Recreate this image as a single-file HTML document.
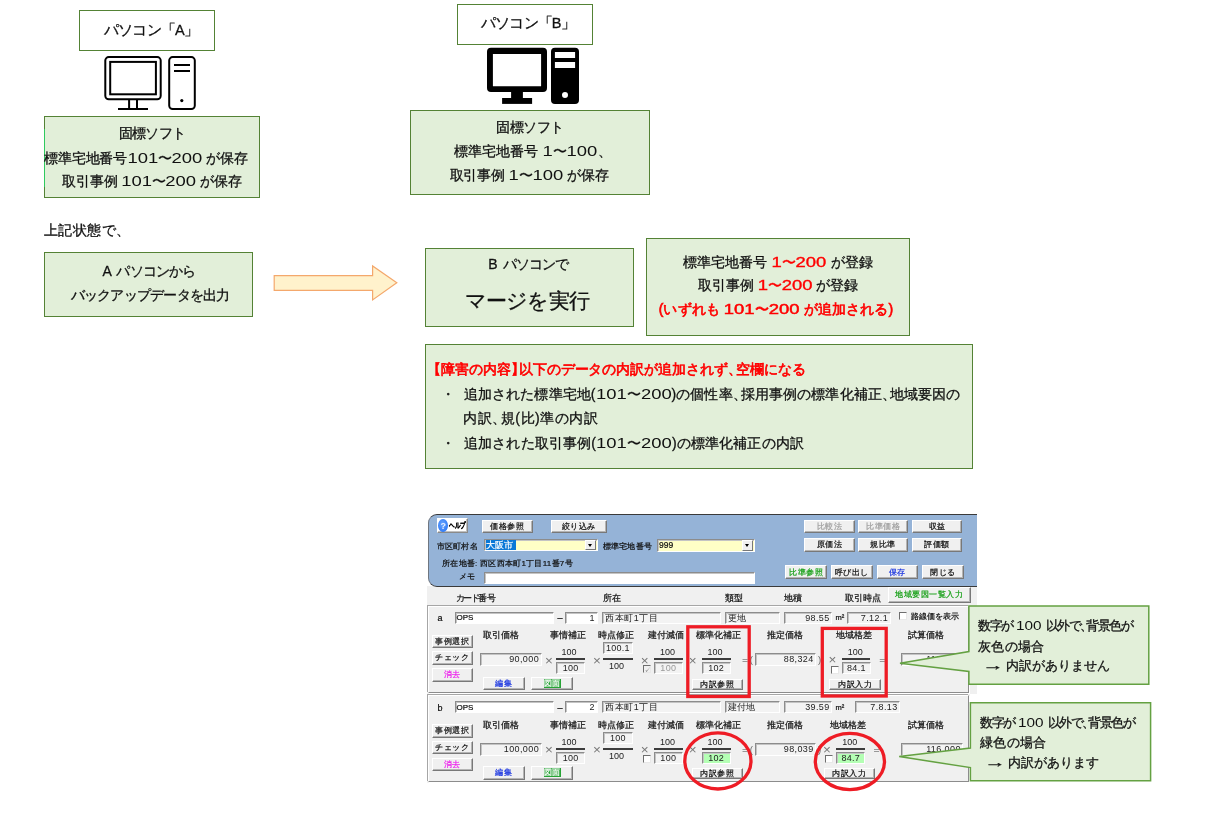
<!DOCTYPE html>
<html lang="ja">
<head>
<meta charset="utf-8">
<title>マージ時の障害内容</title>
<style>
html,body{margin:0;padding:0;background:#fff;}
body{width:1219px;height:824px;position:relative;overflow:hidden;font-family:"Liberation Sans",sans-serif;color:#111;}
.abs{position:absolute;}
/* office-style shapes */
.box{position:absolute;box-sizing:border-box;border:1px solid #548235;background:#fff;}
.gbox{position:absolute;box-sizing:border-box;border:1px solid #548235;background:#e2efd9;}
/* centred single-line text: left/top give the centre point */
.c{will-change:transform;position:absolute;white-space:nowrap;line-height:1;transform:translate(-50%,-50%);font-size:14px;color:#111;-webkit-text-stroke:0.3px currentColor;}
/* left-aligned single-line text: left gives start x, top gives centre y */
.l{will-change:transform;position:absolute;white-space:nowrap;line-height:1;transform:translateY(-50%);font-size:14px;color:#111;-webkit-text-stroke:0.3px currentColor;}
.red{color:#ff0000;}
span.red{-webkit-text-stroke:0.4px currentColor;}
span.red.n{-webkit-text-stroke:0.35px currentColor;}
.b{-webkit-text-stroke:0.65px currentColor;}
.b .n{-webkit-text-stroke:0.5px currentColor;}
.n{display:inline-block;font-size:1.03em;letter-spacing:0;transform:scaleX(1.28);transform-origin:0 50%;-webkit-text-stroke:0 currentColor;}
.n1{margin-right:0.16em;}
.n3{margin-right:0.48em;}
.n.s{transform:scaleX(1.12);margin-right:0.2em;}
.ar{display:inline-block;transform:scaleX(1.6);transform-origin:0 50%;margin-right:0.55em;}
.h{margin-right:-0.42em;}
.hl{margin-left:-0.42em;}
svg{position:absolute;left:0;top:0;overflow:visible;}
/* ---- legacy windows app mock ---- */
#app{position:absolute;left:0;top:0;width:1219px;height:824px;font-size:9px;color:#111;transform:translateZ(0);-webkit-text-stroke:0.22px currentColor;}
#app div{position:absolute;box-sizing:border-box;white-space:nowrap;}
#app .btn{background:#f0f0f0;border:1px solid;border-color:#fff #787878 #787878 #fff;box-shadow:inset -1px -1px 0 #b4b4b4;text-align:center;overflow:hidden;font-size:8px;letter-spacing:0.5px;}
#app .fld{background:#f3f3f3;border:1px solid;border-color:#8c8c8c #fff #fff #8c8c8c;box-shadow:inset 1px 1px 0 #c4c4c4;overflow:hidden;}
#app .fld,#app .tc{-webkit-text-stroke:0 currentColor;color:#222;}
#app .w{background:#fff;}
#app .y{background:#ffffc6;}
#app .g{background:#b4ffb4;}
#app .r{text-align:right;padding-right:1.5px;letter-spacing:0.4px;}
#app .m{text-align:center;letter-spacing:0.3px;}
#app .tx{line-height:1;transform:translateY(-50%);}
#app .tc{line-height:1;transform:translate(-50%,-50%);}
#app .bar{height:2px;background:#3c3c3c;}
#app .cb{width:8px;height:8px;background:#fff;border:1px solid;border-color:#6e6e6e #e8e8e8 #e8e8e8 #6e6e6e;}
#app .row{left:0;width:1219px;height:0;}
#app .pan{background:#f0f0f0;border:1px solid;border-color:#fff #8c8c8c #8c8c8c #fff;box-shadow:-1px -1px 0 #a6a6a6,1px 1px 0 #fff;}
</style>
</head>
<body>

<!-- ============ PC "A" ============ -->
<div class="box" style="left:79px;top:10px;width:136px;height:41px;"></div>
<div id="t0" class="c" style="left:150.8px;top:29.6px;font-size:14.5px;letter-spacing:-0.71px;">パソコン「A」</div>

<div class="gbox" style="left:44px;top:116px;width:216px;height:82px;"></div>
<div class="abs" style="left:44px;top:128.5px;width:1px;height:58px;background:#2fca5f;"></div>
<div id="t1" class="c" style="left:152.1px;top:132.6px;letter-spacing:-0.68px;">固標ソフト</div>
<div id="t2" class="c" style="left:146.3px;top:158.1px;letter-spacing:-0.24px;">標準宅地番号<span class="n n3">101</span>〜<span class="n n3">200</span> が保存</div>
<div id="t3" class="c" style="left:151.7px;top:181.4px;letter-spacing:-0.23px;">取引事例 <span class="n n3">101</span>〜<span class="n n3">200</span> が保存</div>

<div id="t4" class="l" style="left:44.2px;top:229.7px;letter-spacing:0.39px;">上記状態で、</div>

<div class="gbox" style="left:44px;top:252px;width:209px;height:65px;"></div>
<div id="t5" class="c" style="word-spacing:3px;left:148.9px;top:271.1px;letter-spacing:-0.80px;">A パソコンから</div>
<div id="t6" class="c" style="left:149.6px;top:294.6px;letter-spacing:-0.75px;">バックアップデータを出力</div>

<!-- ============ PC "B" ============ -->
<div class="box" style="left:457px;top:4px;width:136px;height:41px;"></div>
<div id="t7" class="c" style="left:528.2px;top:22.6px;font-size:14.5px;letter-spacing:-0.89px;">パソコン「B」</div>

<div class="gbox" style="left:410px;top:110px;width:240px;height:85px;"></div>
<div id="t8" class="c" style="left:530.2px;top:126.9px;letter-spacing:-0.60px;">固標ソフト</div>
<div id="t9" class="c" style="left:533.2px;top:151.4px;letter-spacing:-0.01px;">標準宅地番号 <span class="n n1">1</span>〜<span class="n n3">100</span>、</div>
<div id="t10" class="c" style="left:529.4px;top:175.1px;letter-spacing:-0.22px;">取引事例 <span class="n n1">1</span>〜<span class="n n3">100</span> が保存</div>

<!-- merge box -->
<div class="gbox" style="left:425px;top:248px;width:209px;height:79px;"></div>
<div id="t11" class="c" style="word-spacing:3px;left:527.9px;top:264.1px;letter-spacing:-0.99px;">B パソコンで</div>
<div id="t12" class="c" style="left:527.4px;top:300.1px;font-size:21px;letter-spacing:-0.95px;">マージを実行</div>

<!-- result box -->
<div class="gbox" style="left:646px;top:238px;width:264px;height:98px;"></div>
<div id="t13" class="c" style="left:777.5px;top:261.6px;letter-spacing:0.01px;">標準宅地番号 <span class="red n n1">1</span><span class="red">〜</span><span class="red n n3">200</span> が登録</div>
<div id="t14" class="c" style="left:778.2px;top:285.1px;letter-spacing:-0.05px;">取引事例 <span class="red n n1">1</span><span class="red">〜</span><span class="red n n3">200</span> が登録</div>
<div id="t15" class="c red b" style="left:776.1px;top:309.1px;letter-spacing:0.11px;">(いずれも <span class="n n3">101</span>〜<span class="n n3">200</span> が追加される)</div>

<!-- trouble description box -->
<div class="gbox" style="left:425px;top:344px;width:548px;height:125px;"></div>
<div id="t16" class="l red b" style="left:432.6px;top:368.7px;letter-spacing:-0.07px;"><span class="hl">【</span>障害の内容<span class="h">】</span>以下のデータの内訳が追加されず<span class="h">、</span>空欄になる</div>
<div id="t17" class="l" style="left:441.3px;top:393.9px;">・</div>
<div id="t18" class="l" style="left:463.5px;top:393.6px;letter-spacing:0.09px;">追加された標準宅地(<span class="n n3">101</span>〜<span class="n n3">200</span>)の個性率<span class="h">、</span>採用事例の標準化補正<span class="h">、</span>地域要因の</div>
<div id="t19" class="l" style="left:462.5px;top:417.6px;letter-spacing:0.55px;">内訳<span class="h">、</span>規(比)準の内訳</div>
<div id="t20" class="l" style="left:441.3px;top:443.2px;">・</div>
<div id="t21" class="l" style="left:463.5px;top:442.8px;letter-spacing:0.13px;">追加された取引事例(<span class="n n3">101</span>〜<span class="n n3">200</span>)の標準化補正の内訳</div>

<!-- ============ vector shapes: PC icons, arrow ============ -->
<svg width="1219" height="824" viewBox="0 0 1219 824">
  <!-- PC A (outline) -->
  <g fill="none" stroke="#000" stroke-width="2">
    <rect x="105.3" y="57.1" width="55.4" height="42.2" rx="3.5"/>
    <rect x="110.2" y="61.9" width="45.7" height="32.4"/>
    <path d="M129.1 100V109M137 100V109M118 109H148"/>
    <rect x="169.2" y="57.1" width="25.6" height="51.9" rx="3.5"/>
    <path d="M174 65H190M174 71H190"/>
  </g>
  <circle cx="181.8" cy="100.6" r="1.6" fill="#000"/>
  <!-- PC B (solid) -->
  <g fill="#000">
    <path fill-rule="evenodd" d="M491 47.8H543a4 4 0 0 1 4 4V87.9a4 4 0 0 1 -4 4H491a4 4 0 0 1 -4 -4V51.8a4 4 0 0 1 4 -4ZM492.9 53.9V86.2H541.1V53.9Z"/>
    <rect x="511.1" y="91" width="11.8" height="8"/>
    <rect x="502.1" y="98" width="30" height="5.9"/>
    <path fill-rule="evenodd" d="M555 47.8H575a4 4 0 0 1 4 4V99.9a4 4 0 0 1 -4 4H555a4 4 0 0 1 -4 -4V51.8a4 4 0 0 1 4 -4ZM554.9 51.9V58.1H575.1V51.9ZM554.9 61.9V68H575.1V61.9ZM568 95a3 3 0 1 0 -6 0a3 3 0 1 0 6 0Z"/>
  </g>
  <!-- block arrow -->
  <path d="M274.2 275.6H372.6V266L396.8 282.8L372.6 299.9V290.3H274.2Z" fill="#fff2cc" stroke="#f4a86c" stroke-width="1.2" stroke-linejoin="miter"/>
</svg>

<div id="app">
  <!-- window background -->
  <div style="left:427px;top:586px;width:550px;height:20px;background:#f0f0f0;"></div>
  <div style="left:427px;top:604px;width:550px;height:90px;background:#f0f0f0;"></div>
  <div style="left:427px;top:694px;width:543px;height:89px;background:#f0f0f0;"></div>
  <!-- blue header panel -->
  <div style="left:427.6px;top:513.5px;width:549.2px;height:73.3px;background:#95b3d7;border:1px solid #3a3a3a;border-left-color:#6f7680;border-right:none;border-radius:9px 0 0 9px;"></div>

  <div class="btn" style="left:436.8px;top:517.7px;width:30.8px;height:15.7px;background:#fff;border-color:#fff #8a8a8a #8a8a8a #fff;box-shadow:inset -1px -1px 0 #c0c0c0;"></div>
  <div style="left:438.2px;top:518.9px;width:9.8px;height:13.4px;border-radius:50%;background:radial-gradient(ellipse at 45% 40%,#6aa6ff,#2f7af5 75%);"></div>
  <div class="tc" style="left:443.2px;top:525.6px;color:#e8f0ff;font-weight:bold;font-size:9px;">?</div>
  <div class="tx" style="left:449px;top:525.8px;font-weight:bold;font-size:7.6px;color:#000;transform:translateY(-50%) scaleX(0.70);transform-origin:left center;">ヘルプ</div>

  <div class="btn" style="left:481.5px;top:519.8px;width:51px;height:13.5px;line-height:11px;">価格参照</div>
  <div class="btn" style="left:551px;top:519.8px;width:55.5px;height:13.5px;line-height:11px;">絞り込み</div>

  <div class="tx" style="left:436.5px;top:546.8px;font-size:8px;letter-spacing:0.25px;">市区町村名</div>
  <div class="fld y" style="left:484px;top:538.5px;width:113.5px;height:12.8px;"></div>
  <div style="left:485.5px;top:540px;width:30px;height:9.8px;background:#0a78d7;"></div>
  <div class="tx" style="left:486px;top:545px;color:#fff;font-size:9px;">大阪市</div>
  <div class="btn" style="left:584.5px;top:540px;width:11.5px;height:10px;box-shadow:none;"></div>
  <div style="left:588px;top:543.5px;width:0;height:0;border-left:2.5px solid transparent;border-right:2.5px solid transparent;border-top:3px solid #000;"></div>

  <div class="tx" style="left:602.5px;top:546.8px;font-size:8px;letter-spacing:0.25px;">標準宅地番号</div>
  <div class="fld y" style="left:657px;top:538.5px;width:97.5px;height:13.5px;"></div>
  <div class="tx" style="left:659px;top:544.5px;font-size:8.5px;">999</div>
  <div class="btn" style="left:742px;top:540px;width:11px;height:10.5px;box-shadow:none;"></div>
  <div style="left:745.2px;top:544px;width:0;height:0;border-left:2.5px solid transparent;border-right:2.5px solid transparent;border-top:3px solid #000;"></div>

  <div class="tx" style="left:442px;top:564.2px;font-size:8px;letter-spacing:0.27px;">所在地番: 西区西本町1丁目11番7号</div>
  <div class="tx" style="left:458.5px;top:577px;font-size:8px;letter-spacing:0.9px;">メモ</div>
  <div class="fld w" style="left:484px;top:572px;width:271px;height:12px;"></div>

  <!-- right side buttons -->
  <div class="btn" style="left:804px;top:519.7px;width:50.5px;height:13.7px;line-height:11px;color:#a0a0a0;">比較法</div>
  <div class="btn" style="left:858px;top:519.7px;width:50px;height:13.7px;line-height:11px;color:#a0a0a0;">比準価格</div>
  <div class="btn" style="left:912px;top:519.7px;width:50px;height:13.7px;line-height:11px;">収益</div>
  <div class="btn" style="left:804px;top:538.2px;width:50.5px;height:13.5px;line-height:11px;">原価法</div>
  <div class="btn" style="left:858px;top:538.2px;width:50px;height:13.5px;line-height:11px;">規比準</div>
  <div class="btn" style="left:912px;top:538.2px;width:50px;height:13.5px;line-height:11px;">評価額</div>
  <div class="btn" style="left:785px;top:564.5px;width:42px;height:14.8px;line-height:13px;color:#18a018;">比準参照</div>
  <div class="btn" style="left:830.5px;top:564.5px;width:42px;height:14.8px;line-height:13px;">呼び出し</div>
  <div class="btn" style="left:876.5px;top:564.5px;width:41.5px;height:14.8px;line-height:13px;color:#1a35e0;">保存</div>
  <div class="btn" style="left:922px;top:564.5px;width:41.5px;height:14.8px;line-height:13px;">閉じる</div>

  <!-- column captions -->
  <div class="tx" style="left:456px;top:597.8px;"><span style="letter-spacing:-1.6px;">カード</span>番号</div>
  <div class="tx" style="left:603px;top:597.8px;">所在</div>
  <div class="tx" style="left:725px;top:597.8px;">類型</div>
  <div class="tx" style="left:784px;top:597.8px;">地積</div>
  <div class="tx" style="left:844.5px;top:597.8px;">取引時点</div>
  <div class="btn" style="left:887.5px;top:587.4px;width:83px;height:15.2px;line-height:14.5px;color:#18a018;font-size:8.2px;">地域要因一覧入力</div>

<!--ROWS-->
<div class="row" style="top:0px;">
  <div class="pan" style="left:428px;top:605.5px;width:541px;height:87px;"></div>
  <div class="tx" style="left:437.5px;top:618px;font-size:9px;">a</div>
  <div class="fld w" style="left:454.5px;top:611.7px;width:99.5px;height:12px;"></div><div class="tx" style="left:456.5px;top:618px;font-size:8px;">OPS</div>
  <div class="tx" style="left:557.5px;top:618px;">–</div>
  <div class="fld w r" style="left:564.5px;top:611.7px;width:33px;height:12px;line-height:10.5px;">1</div>
  <div class="fld" style="left:602.3px;top:611.7px;width:118.5px;height:12px;line-height:10.5px;padding-left:2px;font-size:9px;letter-spacing:0.45px;">西本町1丁目</div>
  <div class="fld" style="left:724.6px;top:611.7px;width:55.5px;height:12px;line-height:10.5px;padding-left:2px;font-size:9px;letter-spacing:0.45px;">更地</div>
  <div class="fld r" style="left:783.6px;top:611.7px;width:48.6px;height:12px;line-height:10.5px;">98.55</div>
  <div class="tx" style="left:835.5px;top:618.3px;font-size:7.5px;">m²</div>
  <div class="fld r" style="left:846.9px;top:611.7px;width:43.8px;height:12px;line-height:10.5px;">7.12.1</div>
  <div class="cb" style="left:898.8px;top:612.3px;"></div>
  <div class="tx" style="left:911px;top:616.5px;font-size:8.2px;">路線価を表示</div>
  <div class="btn" style="left:431.5px;top:634.6px;width:41.5px;height:13.5px;line-height:11px;">事例選択</div>
  <div class="btn" style="left:431.5px;top:651.2px;width:41.5px;height:13.5px;line-height:11px;">チェック</div>
  <div class="btn" style="left:431.5px;top:668.2px;width:41.5px;height:13.5px;line-height:11px;color:#ee22ee;">消去</div>
  <div class="tx" style="left:483px;top:635.4px;">取引価格</div>
  <div class="tx" style="left:550px;top:635.4px;">事情補正</div>
  <div class="tx" style="left:597.7px;top:635.4px;">時点修正</div>
  <div class="tx" style="left:647.6px;top:635.4px;">建付減価</div>
  <div class="tx" style="left:695.7px;top:635.4px;">標準化補正</div>
  <div class="tx" style="left:767px;top:635.4px;">推定価格</div>
  <div class="tx" style="left:835.9px;top:635.4px;">地域格差</div>
  <div class="tx" style="left:908px;top:635.4px;">試算価格</div>
  <div class="fld r" style="left:480.4px;top:653.1px;width:61.2px;height:13px;line-height:11px;">90,000</div>
  <div class="tc" style="left:549px;top:660.5px;font-size:13.5px;color:#777;">×</div>
  <div class="tc" style="left:597px;top:660.5px;font-size:13.5px;color:#777;">×</div>
  <div class="tc" style="left:644.6px;top:660.5px;font-size:13.5px;color:#777;">×</div>
  <div class="tc" style="left:692.7px;top:660.5px;font-size:13.5px;color:#777;">×</div>
  <div class="tc" style="left:569px;top:652.2px;">100</div><div class="bar" style="left:556.4px;top:658px;width:28.2px;"></div>
  <div class="fld m" style="left:556.4px;top:662.1px;width:28.5px;height:12px;line-height:10.5px;">100</div>
  <div class="fld m" style="left:603px;top:642.3px;width:29.8px;height:12px;line-height:10.5px;">100.1</div><div class="bar" style="left:603px;top:658px;width:29.8px;"></div>
  <div class="tc" style="left:616.5px;top:666.3px;">100</div>
  <div class="tc" style="left:667.5px;top:652.2px;">100</div><div class="bar" style="left:654px;top:658px;width:28.6px;"></div>
  <div class="fld m" style="left:654px;top:662.1px;width:28.6px;height:12px;line-height:10.5px;color:#9a9a9a;">100</div>
  <div class="cb" style="left:643px;top:665px;background:#f0f0f0;"></div>
  <div class="tc" style="left:647.2px;top:669px;font-size:7px;color:#8a8a8a;">✓</div>
  <div class="tc" style="left:715px;top:652.2px;">100</div><div class="bar" style="left:701.5px;top:658px;width:29px;"></div>
  <div class="fld m" style="left:701.5px;top:662.1px;width:29.4px;height:12px;line-height:10.5px;">102</div>
  <div class="btn" style="left:691.5px;top:678.7px;width:51.5px;height:11.2px;line-height:9.5px;">内訳参照</div>
  <div class="tc" style="left:745px;top:660.3px;font-size:10.5px;color:#444;transform:translate(-50%,-50%) scaleY(0.75);">=</div>
  <div class="tc" style="left:751.3px;top:660.3px;font-size:9.5px;color:#666;">(</div>
  <div class="fld r" style="left:755.3px;top:653.1px;width:60.9px;height:13px;line-height:11px;">88,324</div>
  <div class="tc" style="left:819.6px;top:660.3px;font-size:9.5px;color:#666;">)</div>
  <div class="tc" style="left:832.5px;top:660.3px;font-size:13.5px;color:#777;">×</div>
  <div class="tc" style="left:855.3px;top:652.2px;">100</div><div class="bar" style="left:842px;top:658px;width:28.2px;"></div>
  <div class="fld m" style="left:842px;top:662.1px;width:28.8px;height:12px;line-height:10.5px;">84.1</div>
  <div class="cb" style="left:830.6px;top:665.8px;"></div>
  <div class="btn" style="left:829.4px;top:678.7px;width:51.4px;height:11.2px;line-height:9.5px;">内訳入力</div>
  <div class="tc" style="left:882.3px;top:660.3px;font-size:10.5px;color:#444;transform:translate(-50%,-50%) scaleY(0.75);">=</div>
  <div class="fld r" style="left:900.5px;top:653.1px;width:62.8px;height:13px;line-height:11px;">118,000</div>
  <div class="btn" style="left:483px;top:676.7px;width:41.5px;height:13.5px;line-height:11px;color:#1a35e0;">編集</div>
  <div class="btn" style="left:531.4px;top:676.7px;width:41.6px;height:13.5px;line-height:11px;"><span style="background:#27a336;color:#fff;">図面</span></div>
</div>
<div class="row" style="top:89.5px;">
  <div class="pan" style="left:428px;top:605.5px;width:541px;height:87px;"></div>
  <div class="tx" style="left:437.5px;top:618px;font-size:9px;">b</div>
  <div class="fld w" style="left:454.5px;top:611.7px;width:99.5px;height:12px;"></div><div class="tx" style="left:456.5px;top:618px;font-size:8px;">OPS</div>
  <div class="tx" style="left:557.5px;top:618px;">–</div>
  <div class="fld w r" style="left:564.5px;top:611.7px;width:33px;height:12px;line-height:10.5px;">2</div>
  <div class="fld" style="left:602.3px;top:611.7px;width:118.5px;height:12px;line-height:10.5px;padding-left:2px;font-size:9px;letter-spacing:0.45px;">西本町1丁目</div>
  <div class="fld" style="left:724.6px;top:611.7px;width:55.5px;height:12px;line-height:10.5px;padding-left:2px;font-size:9px;letter-spacing:0.45px;">建付地</div>
  <div class="fld r" style="left:783.6px;top:611.7px;width:48.6px;height:12px;line-height:10.5px;">39.59</div>
  <div class="tx" style="left:835.5px;top:618.3px;font-size:7.5px;">m²</div>
  <div class="fld r" style="left:854.6px;top:611.7px;width:45.6px;height:12px;line-height:10.5px;">7.8.13</div>
  <div class="btn" style="left:431.5px;top:634.6px;width:41.5px;height:13.5px;line-height:11px;">事例選択</div>
  <div class="btn" style="left:431.5px;top:651.2px;width:41.5px;height:13.5px;line-height:11px;">チェック</div>
  <div class="btn" style="left:431.5px;top:668.2px;width:41.5px;height:13.5px;line-height:11px;color:#ee22ee;">消去</div>
  <div class="tx" style="left:483px;top:635.4px;">取引価格</div>
  <div class="tx" style="left:550px;top:635.4px;">事情補正</div>
  <div class="tx" style="left:597.7px;top:635.4px;">時点修正</div>
  <div class="tx" style="left:647.6px;top:635.4px;">建付減価</div>
  <div class="tx" style="left:695.7px;top:635.4px;">標準化補正</div>
  <div class="tx" style="left:767px;top:635.4px;">推定価格</div>
  <div class="tx" style="left:830.3px;top:635.4px;">地域格差</div>
  <div class="tx" style="left:908px;top:635.4px;">試算価格</div>
  <div class="fld r" style="left:480.4px;top:653.1px;width:61.2px;height:13px;line-height:11px;">100,000</div>
  <div class="tc" style="left:549px;top:660.5px;font-size:13.5px;color:#777;">×</div>
  <div class="tc" style="left:597px;top:660.5px;font-size:13.5px;color:#777;">×</div>
  <div class="tc" style="left:644.6px;top:660.5px;font-size:13.5px;color:#777;">×</div>
  <div class="tc" style="left:692.7px;top:660.5px;font-size:13.5px;color:#777;">×</div>
  <div class="tc" style="left:569px;top:652.2px;">100</div><div class="bar" style="left:556.4px;top:658px;width:28.2px;"></div>
  <div class="fld m" style="left:556.4px;top:662.1px;width:28.5px;height:12px;line-height:10.5px;">100</div>
  <div class="fld m" style="left:603px;top:642.3px;width:29.8px;height:12px;line-height:10.5px;">100</div><div class="bar" style="left:603px;top:658px;width:29.8px;"></div>
  <div class="tc" style="left:616.5px;top:666.3px;">100</div>
  <div class="tc" style="left:667.5px;top:652.2px;">100</div><div class="bar" style="left:654px;top:658px;width:28.6px;"></div>
  <div class="fld m" style="left:654px;top:662.1px;width:28.6px;height:12px;line-height:10.5px;">100</div>
  <div class="cb" style="left:643px;top:665px;"></div>
  <div class="tc" style="left:715px;top:652.2px;">100</div><div class="bar" style="left:701.5px;top:658px;width:29px;"></div>
  <div class="fld m g" style="left:701.5px;top:662.1px;width:29.4px;height:12px;line-height:10.5px;">102</div>
  <div class="btn" style="left:691.5px;top:678.7px;width:51.5px;height:11.2px;line-height:9.5px;">内訳参照</div>
  <div class="tc" style="left:745px;top:660.3px;font-size:10.5px;color:#444;transform:translate(-50%,-50%) scaleY(0.75);">=</div>
  <div class="tc" style="left:751.3px;top:660.3px;font-size:9.5px;color:#666;">(</div>
  <div class="fld r" style="left:755.3px;top:653.1px;width:60.9px;height:13px;line-height:11px;">98,039</div>
  <div class="tc" style="left:819.6px;top:660.3px;font-size:9.5px;color:#666;">)</div>
  <div class="tc" style="left:826.9px;top:660.3px;font-size:13.5px;color:#777;">×</div>
  <div class="tc" style="left:849.6999999999999px;top:652.2px;">100</div><div class="bar" style="left:836.4px;top:658px;width:28.2px;"></div>
  <div class="fld m g" style="left:836.4px;top:662.1px;width:28.8px;height:12px;line-height:10.5px;">84.7</div>
  <div class="cb" style="left:825.0px;top:665.8px;"></div>
  <div class="btn" style="left:823.8px;top:678.7px;width:51.4px;height:11.2px;line-height:9.5px;">内訳入力</div>
  <div class="tc" style="left:876.6999999999999px;top:660.3px;font-size:10.5px;color:#444;transform:translate(-50%,-50%) scaleY(0.75);">=</div>
  <div class="fld r" style="left:900.5px;top:653.1px;width:62.8px;height:13px;line-height:11px;">116,000</div>
  <div class="btn" style="left:483px;top:676.7px;width:41.5px;height:13.5px;line-height:11px;color:#1a35e0;">編集</div>
  <div class="btn" style="left:531.4px;top:676.7px;width:41.6px;height:13.5px;line-height:11px;"><span style="background:#27a336;color:#fff;">図面</span></div>
</div>
<!--/ROWS-->
</div>

<!-- ============ red markers + callouts ============ -->
<svg width="1219" height="824" viewBox="0 0 1219 824">
  <g fill="none" stroke="#ee1c25" stroke-width="3.3">
    <rect x="687.8" y="626.8" width="61.4" height="69.7"/>
    <rect x="822.3" y="628.4" width="63.9" height="67.6"/>
    <ellipse cx="717.9" cy="760.9" rx="33.1" ry="28.1"/>
    <ellipse cx="849.9" cy="761.5" rx="34.6" ry="28.1"/>
  </g>
  <g fill="#e2efd9" stroke="#64a142" stroke-width="1.5" stroke-linejoin="miter">
    <path d="M968.9 606H1148.8V684.2H968.9V671.4L900 663.3L968.9 651.6Z"/>
    <path d="M970.4 702.8H1150.6V780.7H970.4V767.6L899.2 756.6L970.4 748.1Z"/>
  </g>
</svg>
<div id="t22" class="l" style="word-spacing:1.5px;left:977.7px;top:626.0px;font-size:13.3px;letter-spacing:-1.45px;">数字が <span class="n n3 s">100</span> 以外で<span class="h">、</span>背景色が</div>
<div id="t23" class="l" style="left:977.7px;top:646.8px;font-size:13.3px;letter-spacing:0.36px;">灰色の場合</div>
<div id="t24" class="l" style="left:981.6px;top:666.4px;font-size:13.3px;letter-spacing:-0.02px;"><span class="ar">→</span>&nbsp;内訳がありません</div>
<div id="t25" class="l" style="word-spacing:1.5px;left:980.0px;top:722.6px;font-size:13.3px;letter-spacing:-1.48px;">数字が <span class="n n3 s">100</span> 以外で<span class="h">、</span>背景色が</div>
<div id="t26" class="l" style="left:980.0px;top:742.7px;font-size:13.3px;letter-spacing:0.36px;">緑色の場合</div>
<div id="t27" class="l" style="left:984.2px;top:762.8px;font-size:13.3px;letter-spacing:-0.06px;"><span class="ar">→</span>&nbsp;内訳があります</div>

</body>
</html>
